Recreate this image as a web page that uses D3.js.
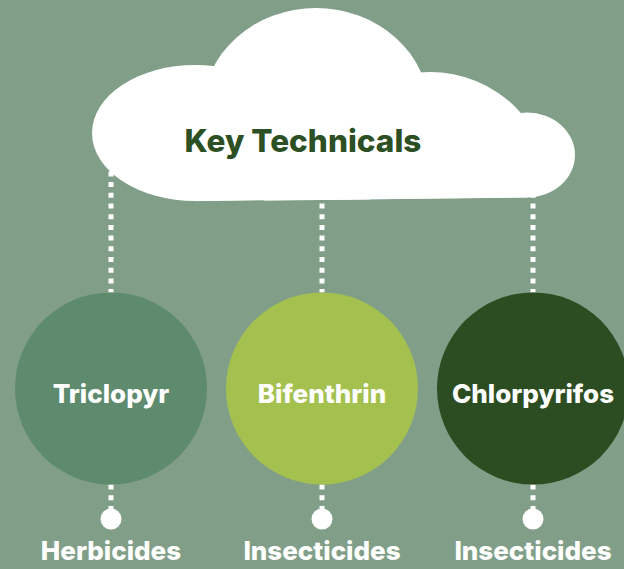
<!DOCTYPE html>
<html>
<head>
<meta charset="utf-8">
<script src="https://cdn.jsdelivr.net/npm/d3@7"></script>
<style>
  body { margin: 0; background: #819f88; }
  svg { display: block; }
</style>
</head>
<body>
<div class="canvas"></div>
<script>
// data
const chemicals = ['Triclopyr', 'Bifenthrin', 'Chlorpyrifos'];
const types = ['Herbicides', 'Insecticides', 'Insecticides'];
const colors = ['#5e8a6e', '#a4c150', '#2c4d22'];
const title = 'Key Technicals';

const width = 624;
const height = 569;
const font = 'Inter, "Noto Sans", sans-serif';

const svg = d3.select('.canvas')
	.append('svg')
	.attr('width', width)
	.attr('height', height);

svg.append('rect')
	.attr('width', width)
	.attr('height', height)
	.attr('fill', '#819f88');

const x = d3.scalePoint()
	.domain(chemicals)
	.range([111, 533]);

const circleY = 388.5;
const r = 96;

// dotted connectors from cloud
svg.selectAll('line.top')
	.data(chemicals)
	.enter()
	.append('line')
	.attr('class', 'top')
	.attr('x1', d => x(d))
	.attr('x2', d => x(d))
	.attr('y1', 150)
	.attr('y2', circleY - r)
	.attr('stroke', '#fff')
	.attr('stroke-width', 5)
	.attr('stroke-dasharray', '5 5.7');

// cloud made of overlapping white shapes
const clip = svg.append('clipPath').attr('id', 'cloudclip');
clip.append('path').attr('d', 'M0,0H624V150H527V197.5L195,201.5H0Z');

const cloud = svg.append('g').attr('fill', '#fff');
const body = cloud.append('g').attr('clip-path', 'url(#cloudclip)');
const lobes = [
	{ cx: 195, cy: 133, rx: 103, ry: 68 },
	{ cx: 316, cy: 110, rx: 113, ry: 102 },
	{ cx: 430, cy: 190, rx: 120, ry: 118 }
];
body.selectAll('ellipse')
	.data(lobes)
	.enter()
	.append('ellipse')
	.attr('cx', d => d.cx)
	.attr('cy', d => d.cy)
	.attr('rx', d => d.rx)
	.attr('ry', d => d.ry);
body.append('path')
	.attr('d', 'M195,120L527,120L527,197.5L195,201.3Z');
// small right lobe
cloud.append('ellipse')
	.attr('cx', 527)
	.attr('cy', 155)
	.attr('rx', 48)
	.attr('ry', 42.5);

svg.append('text')
	.attr('x', 303)
	.attr('y', 152)
	.attr('text-anchor', 'middle')
	.attr('font-family', font)
	.attr('font-weight', 800)
	.attr('font-size', 31.5)
	.attr('fill', '#2c4f23')
	.text(title);

// bottom dotted connectors
svg.selectAll('line.bottom')
	.data(chemicals)
	.enter()
	.append('line')
	.attr('class', 'bottom')
	.attr('x1', d => x(d))
	.attr('x2', d => x(d))
	.attr('y1', circleY + r)
	.attr('y2', 512)
	.attr('stroke', '#fff')
	.attr('stroke-width', 5)
	.attr('stroke-dasharray', '5 5.7');

svg.selectAll('circle.dot')
	.data(chemicals)
	.enter()
	.append('circle')
	.attr('class', 'dot')
	.attr('cx', d => x(d))
	.attr('cy', 519)
	.attr('r', 10.5)
	.attr('fill', '#fff');

// big circles
svg.selectAll('circle.main')
	.data(chemicals)
	.enter()
	.append('circle')
	.attr('class', 'main')
	.attr('cx', d => x(d))
	.attr('cy', circleY)
	.attr('r', r)
	.attr('fill', (d, i) => colors[i]);

svg.selectAll('text.name')
	.data(chemicals)
	.enter()
	.append('text')
	.attr('class', 'name')
	.attr('x', d => x(d))
	.attr('y', 403)
	.attr('text-anchor', 'middle')
	.attr('font-family', font)
	.attr('font-weight', 800)
	.attr('font-size', 26)
	.attr('fill', '#fff')
	.text(d => d);

svg.selectAll('text.type')
	.data(types)
	.enter()
	.append('text')
	.attr('class', 'type')
	.attr('x', (d, i) => x(chemicals[i]))
	.attr('y', 560)
	.attr('text-anchor', 'middle')
	.attr('font-family', font)
	.attr('font-weight', 800)
	.attr('font-size', 26)
	.attr('fill', '#fff')
	.text(d => d);
</script>
</body>
</html>
